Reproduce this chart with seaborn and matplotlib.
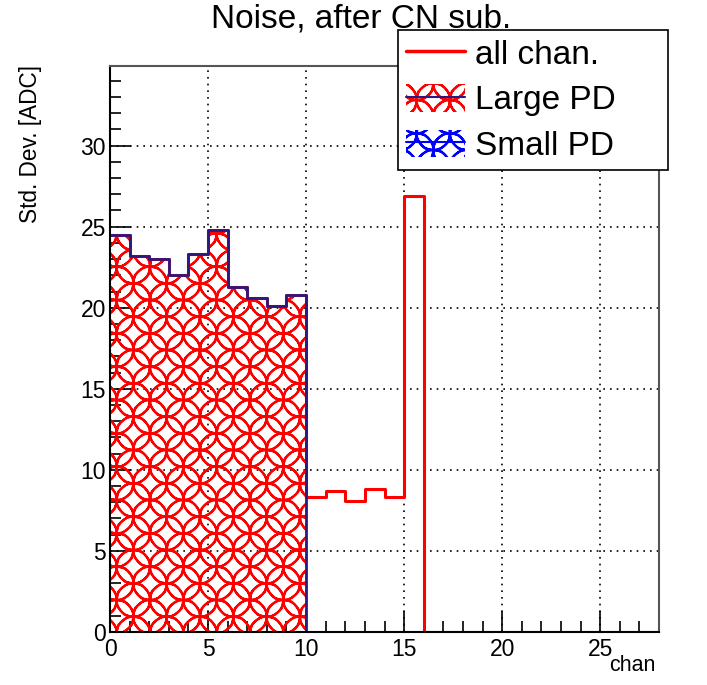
import numpy as np
import pandas as pd
import matplotlib
matplotlib.use("Agg")
import matplotlib.pyplot as plt
import matplotlib.hatch as mhatch
from matplotlib.path import Path
import seaborn as sns
from matplotlib.patches import Patch
from matplotlib.lines import Line2D
from matplotlib.legend_handler import HandlerTuple
from matplotlib.ticker import MultipleLocator

sns.set_theme(style="white")
plt.rcParams['font.family'] = ['Liberation Sans', 'DejaVu Sans']
plt.rcParams['hatch.linewidth'] = 1.6
for k in ['text.color', 'axes.labelcolor', 'xtick.color', 'ytick.color']:
    plt.rcParams[k] = 'black'

# ---- data ----
chan = list(range(28))
all_chan = [24.5, 23.2, 23.0, 22.0, 23.3, 24.8, 21.3, 20.6, 20.1, 20.8,
            8.3, 8.7, 8.1, 8.8, 8.3, 26.9] + [0.0] * 12
large_pd = [24.5, 23.2, 23.0, 22.0, 23.3, 24.8, 21.3, 20.6, 20.1, 20.8] + [0.0] * 18
small_pd = [0.0] * 28
labels = ["all chan.", "Large PD", "Small PD"]


# ROOT-like overlapping-rings fill pattern, mapped on the '*' hatch symbol
class Rings(mhatch.HatchPatternBase):
    def __init__(self, hatch, density):
        k = 3
        self.r = 0.5 / k
        self.centers = []
        if hatch.count('*'):
            self.centers = [(i / k, j / k) for i in range(k + 1) for j in range(k + 1)]
            self.centers += [((i + 0.5) / k, (j + 0.5) / k) for i in range(k) for j in range(k)]
        self.circ = Path.unit_circle()
        self.num_vertices = len(self.centers) * len(self.circ.vertices) * 2

    def set_vertices_and_codes(self, vertices, codes):
        v = self.circ.vertices
        c = self.circ.codes
        n = len(v)
        cur = 0
        for (cx, cy) in self.centers:
            vertices[cur:cur + n] = v * self.r + (cx, cy)
            codes[cur:cur + n] = c
            cur += n
            vertices[cur:cur + n] = v[::-1] * self.r * 0.995 + (cx, cy)
            codes[cur:cur + n] = c
            cur += n


mhatch._hatch_types = [t for t in mhatch._hatch_types if t.__name__ != 'Stars'] + [Rings]

df = pd.DataFrame({"chan": np.array(chan) + 0.5, "all": all_chan,
                   "large": large_pd, "small": small_pd})
hist_kw = dict(data=df, x="chan", bins=28, binrange=(0, 28), element="step")

fig = plt.figure(figsize=(7.07, 6.85), dpi=100)
ax = fig.add_axes([0.1556, 0.0774, 0.7765, 0.826])

# Small PD (zeros) - blue line
sns.histplot(weights="small", fill=False, color="blue", linewidth=2, ax=ax, **hist_kw)
# Large PD - red ring-hatched fill
n_before = len(ax.collections)
sns.histplot(weights="large", fill=True, color="red", alpha=1, ax=ax, **hist_kw)
for coll in ax.collections[n_before:]:
    coll.set_facecolor('none')
    coll.set_edgecolor('red')
    coll.set_hatch('*')
    coll.set_linewidth(0)
# all chan - red line
sns.histplot(weights="all", fill=False, color="red", linewidth=2.2, ax=ax, **hist_kw)
# Large PD outline - navy
sns.histplot(weights="large", fill=False, color="#2a1a80", linewidth=2, ax=ax, **hist_kw)

ax.set_xlim(0, 28)
ax.set_ylim(0, 34.9)
ax.xaxis.set_major_locator(MultipleLocator(5))
ax.xaxis.set_minor_locator(MultipleLocator(1))
ax.yaxis.set_major_locator(MultipleLocator(5))
ax.yaxis.set_minor_locator(MultipleLocator(1))
ax.tick_params(axis='both', which='major', direction='in', length=15, width=1.2,
               labelsize=16.5, color='black', bottom=True, left=True)
ax.tick_params(axis='x', which='major', pad=4)
ax.tick_params(axis='y', which='major', pad=3)
ax.tick_params(axis='both', which='minor', direction='in', length=8, width=1.2,
               color='black', bottom=True, left=True)
ax.grid(True, which='major', linestyle=(0, (1, 3)), color='black', linewidth=1.2)
for s in ['left', 'bottom']:
    ax.spines[s].set_color('black')
    ax.spines[s].set_linewidth(1.5)
for s in ['right', 'top']:
    ax.spines[s].set_color('#555555')
    ax.spines[s].set_linewidth(1.5)

ax.set_xlabel("")
ax.set_ylabel("")
fig.text(0.927, 0.029, "chan", ha='right', va='center', fontsize=15.5)
fig.text(0.043, 0.905, "Std. Dev. [ADC]", rotation=90, ha='center', va='top', fontsize=16.3)
fig.text(0.511, 0.972, "Noise, after CN sub.", ha='center', va='center', fontsize=24)

h_all = Line2D([0], [0], color='red', lw=2.5)
h_large = (Patch(facecolor='none', edgecolor='red', hatch='*', linewidth=0),
           Line2D([0], [0], color='#2a1a80', lw=1.5))
h_small = (Patch(facecolor='none', edgecolor='blue', hatch='*', linewidth=0),
           Line2D([0], [0], color='blue', lw=1.5))
leg = fig.legend([h_all, h_large, h_small], labels,
                 handler_map={tuple: HandlerTuple(ndivide=1, pad=0)},
                 loc='upper left', bbox_to_anchor=(0.563, 0.749, 0.382, 0.207),
                 mode='expand', fontsize=24,
                 frameon=True, fancybox=False, borderpad=0.25, labelspacing=0.4,
                 handlelength=1.75, handleheight=0.9, handletextpad=0.3,
                 borderaxespad=0)
leg.get_frame().set_edgecolor('black')
leg.get_frame().set_linewidth(1.2)
leg.get_frame().set_alpha(1)

fig.savefig("out.png", dpi=100)
